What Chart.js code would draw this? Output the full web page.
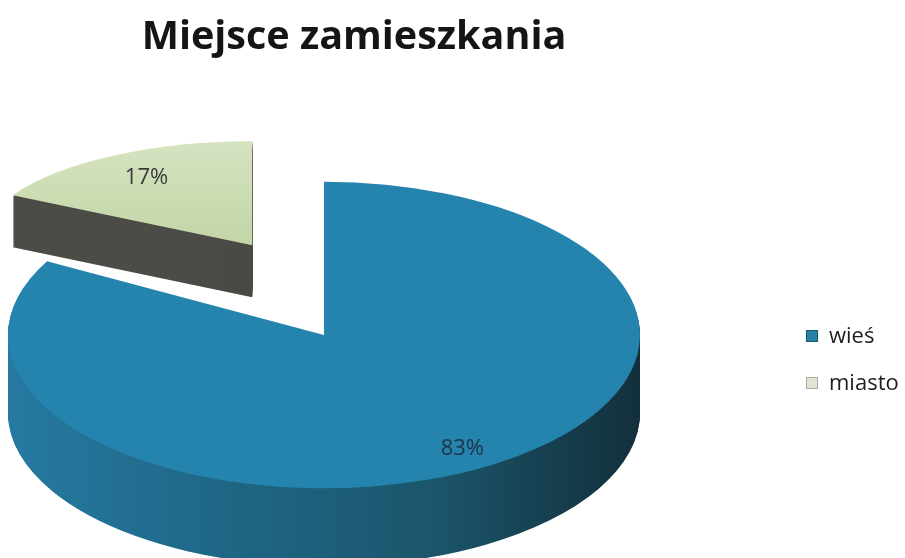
<!DOCTYPE html>
<html lang="pl">
<head>
<meta charset="utf-8">
<title>Miejsce zamieszkania</title>
<script src="https://cdn.jsdelivr.net/npm/chart.js@4.4.1/dist/chart.umd.min.js"></script>
<style>
  html, body { margin: 0; padding: 0; background: #ffffff; }
  #wrap { width: 905px; height: 558px; }
</style>
</head>
<body>
<div id="wrap"><canvas id="chart" width="905" height="558"></canvas></div>
<script>
// Miejsce zamieszkania respondentów – udział procentowy
const chartTitle = 'Miejsce zamieszkania';
const categories = ['wieś', 'miasto'];
const shares = [83, 17];

// Kolory wierzchu plastrów, boków i etykiet
const topColors = ['#2484ad', '#c9daae'];
const sideColors = [
  ['#2679a2', '#1f6786', '#1b566c', '#132f3b'],
  ['#4c4b45', '#4c4b45', '#46453f', '#403f3a']
];
const labelColors = ['#1d3449', '#3a3a3a'];

// Wygląd 3D każdego plastra: skala perspektywy, pochylenie, grubość, wysunięcie
const sliceLook = [
  { scale: 1.0,   tilt: 0.485, depth: 78, explode: 0,   lift: 0,    labelAt: 0.86 },
  { scale: 0.865, tilt: 0.38,  depth: 52, explode: 141, lift: 0.74, labelAt: 0.76 }
];
const drawOrder = [1, 0];   // od tylnego do przedniego

function placeSlice(ctx, el, look, dz) {
  const h = (el.startAngle + el.endAngle) / 2;
  const ex = Math.cos(h) * look.explode;
  const ey = Math.sin(h) * look.explode * look.lift;
  ctx.translate(el.x + ex, el.y + ey + dz);
  ctx.scale(look.scale, look.scale * look.tilt);
  ctx.translate(-el.x, -el.y);
}

function drawWith(el, ctx, over) {
  const orig = el.options;
  el.options = Object.assign(Object.create(orig), over);
  try { el.draw(ctx); } finally { el.options = orig; }
}

const pie3d = {
  id: 'pie3d',
  beforeDatasetsDraw(chart) {
    const ctx = chart.ctx;
    const meta = chart.getDatasetMeta(0);
    const values = chart.data.datasets[0].data;
    const total = values.reduce((a, b) => a + b, 0);

    drawOrder.forEach(i => {
      const el = meta.data[i];
      const look = sliceLook[i];
      const R = el.outerRadius;
      // boczna ścianka – nakładane kolejno warstwy
      const g = ctx.createLinearGradient(el.x - R, 0, el.x + R, 0);
      const sc = sideColors[i];
      sc.forEach((c, k) => g.addColorStop(k / (sc.length - 1), c));
      for (let dz = look.depth; dz >= 1; dz--) {
        ctx.save();
        placeSlice(ctx, el, look, dz);
        drawWith(el, ctx, { backgroundColor: g });
        ctx.restore();
      }
      // wierzch plastra
      ctx.save();
      placeSlice(ctx, el, look, 0);
      let topFill = topColors[i];
      if (i === 1) {
        const tg = ctx.createLinearGradient(0, el.y - R, 0, el.y);
        tg.addColorStop(0, '#d5e3c1');
        tg.addColorStop(1, '#c3d5a6');
        topFill = tg;
      }
      drawWith(el, ctx, { backgroundColor: topFill });
      ctx.restore();
    });

    // etykiety procentowe
    meta.data.forEach((el, i) => {
      const look = sliceLook[i];
      const h = (el.startAngle + el.endAngle) / 2;
      const r = el.outerRadius * look.labelAt;
      const x = el.x + Math.cos(h) * look.explode + look.scale * Math.cos(h) * r;
      const y = el.y + Math.sin(h) * look.explode * look.lift + look.scale * look.tilt * Math.sin(h) * r;
      ctx.save();
      ctx.font = '22px "Open Sans", sans-serif';
      ctx.fillStyle = labelColors[i];
      ctx.textAlign = 'center';
      ctx.textBaseline = 'middle';
      ctx.fillText(Math.round(values[i] / total * 100) + '%', x, y);
      ctx.restore();
    });
    return false;
  },
  afterDraw(chart) {
    const ctx = chart.ctx;
    ctx.save();
    // tytuł
    ctx.font = 'bold 39.5px "Open Sans", sans-serif';
    ctx.fillStyle = '#151515';
    ctx.textAlign = 'center';
    ctx.textBaseline = 'alphabetic';
    ctx.fillText(chartTitle, 354, 49);
    // legenda
    const legendY = [336, 383];
    const legendFill = ['#2a82ab', '#dfe5d2'];
    const legendStroke = ['#1b5670', '#a9ae9c'];
    ctx.font = '22px "Open Sans", sans-serif';
    ctx.textBaseline = 'middle';
    ctx.textAlign = 'left';
    categories.forEach((name, i) => {
      ctx.fillStyle = legendFill[i];
      ctx.fillRect(806, legendY[i] - 6, 12, 12);
      ctx.strokeStyle = legendStroke[i];
      ctx.lineWidth = 1;
      ctx.strokeRect(806.5, legendY[i] - 5.5, 11, 11);
      ctx.fillStyle = '#1e1e1e';
      ctx.fillText(name, 829, legendY[i] + 1);
    });
    ctx.restore();
  }
};

new Chart(document.getElementById('chart'), {
  type: 'pie',
  data: {
    labels: categories,
    datasets: [{ data: shares, backgroundColor: topColors, borderWidth: 0 }]
  },
  options: {
    responsive: false,
    animation: false,
    events: [],
    rotation: 0,
    radius: 316,
    layout: { padding: { left: 0, right: 257, top: 112, bottom: 0 } },
    plugins: {
      legend: { display: false },
      title: { display: false },
      tooltip: { enabled: false }
    }
  },
  plugins: [pie3d]
});
</script>
</body>
</html>
